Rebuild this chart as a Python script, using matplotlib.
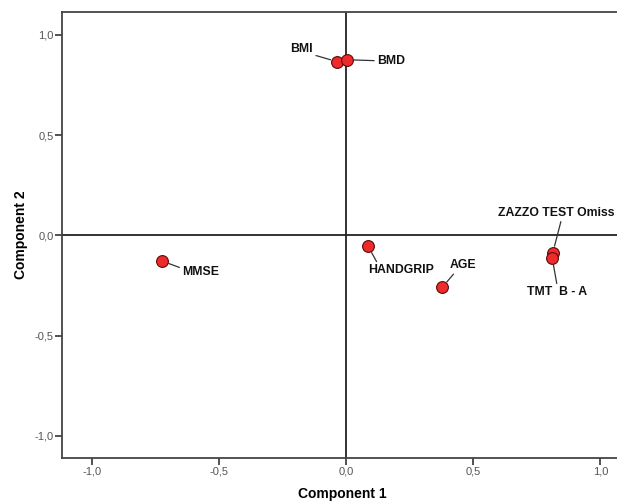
import matplotlib
matplotlib.use("Agg")
import matplotlib.pyplot as plt
from matplotlib.ticker import FuncFormatter
from matplotlib import font_manager

names = ["BMI", "BMD", "MMSE", "HANDGRIP", "AGE", "ZAZZO TEST Omiss", "TMT  B - A"]
comp1 = [-0.035, 0.003, -0.724, 0.087, 0.378, 0.813, 0.811]
comp2 = [0.866, 0.876, -0.128, -0.055, -0.259, -0.087, -0.114]
# label offsets in pixels, alignment and leader-line attach point
label_off = [(-24, 13), (30, -1), (20, -11), (0, -24), (7, 22), (3, 40), (5, -34)]
label_ha = ["right", "left", "left", "left", "left", "center", "center"]
label_rel = [(1, 0), (0, 0.5), (0, 0.8), (0.15, 1), (0.25, 0), (0.55, 0), (0.5, 1)]

xticks = [-1.0, -0.5, 0.0, 0.5, 1.0]
yticks = [-1.0, -0.5, 0.0, 0.5, 1.0]

avail = {f.name for f in font_manager.fontManager.ttflist}
lab_family = "Liberation Sans Narrow" if "Liberation Sans Narrow" in avail else "Liberation Sans"
lab_size = 10 if lab_family == "Liberation Sans Narrow" else 8.8

fig = plt.figure(figsize=(6.17, 5.03), dpi=100)
ax = fig.add_axes([62/617, 45/503, 1 - 62/617 + 0.01, (458-12)/503])
ax.set_xlim(-1.118, 1.09)
ax.set_ylim(-1.11, 1.114)

ax.axhline(0, color="#222222", lw=1.3, zorder=1)
ax.axvline(0, color="#222222", lw=1.3, zorder=1)

ax.scatter(comp1, comp2, s=72, facecolor="#ee2a2a", edgecolor="#5a0a0a", linewidth=0.8, zorder=3)

for n, x, y, off, ha, rel in zip(names, comp1, comp2, label_off, label_ha, label_rel):
    ax.annotate(n, xy=(x, y), xytext=off, textcoords="offset pixels",
                ha=ha, va="center", fontsize=lab_size, fontweight="bold",
                family=lab_family, color="#111111",
                arrowprops=dict(arrowstyle="-", color="#333333", lw=0.9,
                                shrinkA=0, shrinkB=5, relpos=rel),
                zorder=4, annotation_clip=False)

fmt = FuncFormatter(lambda v, p: f"{v:.1f}".replace(".", ","))
ax.set_xticks(xticks)
ax.set_yticks(yticks)
ax.xaxis.set_major_formatter(fmt)
ax.yaxis.set_major_formatter(fmt)
ax.tick_params(axis="both", direction="out", length=5, width=1.2, color="#333333",
               labelsize=8, labelcolor="#555555", pad=1)
for lab in ax.get_xticklabels() + ax.get_yticklabels():
    lab.set_family("Liberation Sans")

for s in ["left", "bottom", "top"]:
    ax.spines[s].set_color("#444444")
    ax.spines[s].set_linewidth(1.3)
ax.spines["right"].set_visible(False)

ax.set_xlabel("Component 1", fontsize=10, fontweight="bold", family="Liberation Sans", labelpad=8)
ax.set_ylabel("Component 2", fontsize=10, fontweight="bold", family="Liberation Sans", labelpad=5)

fig.savefig("out.png", dpi=100)
